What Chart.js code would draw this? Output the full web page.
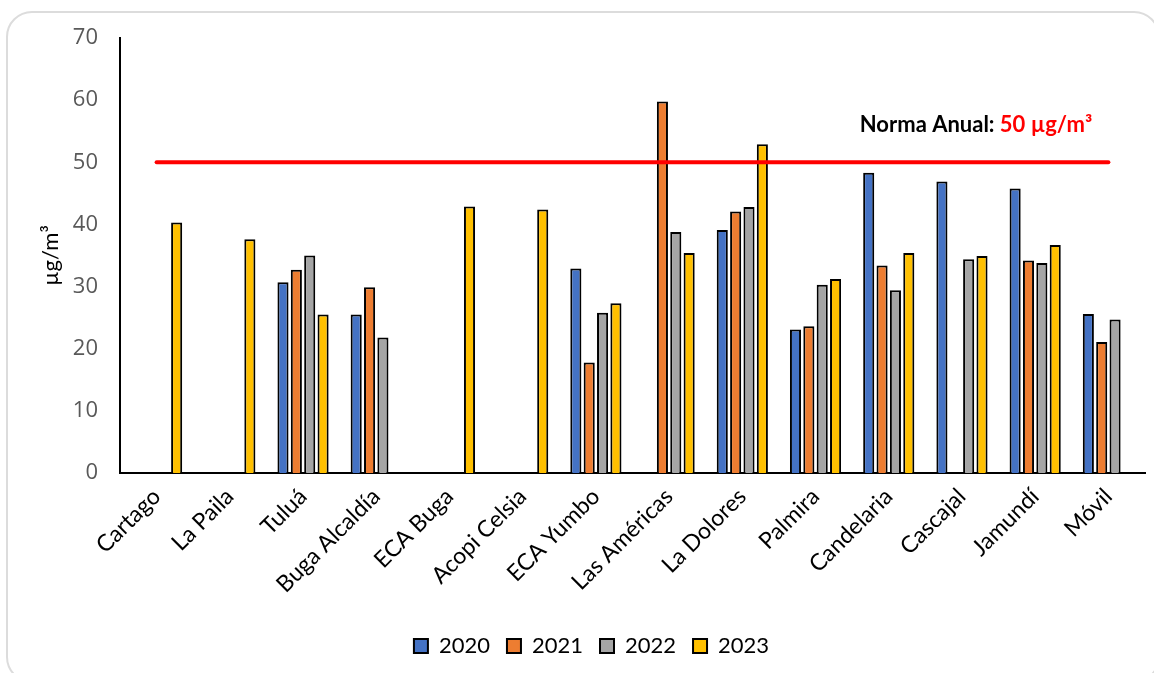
<!DOCTYPE html>
<html>
<head>
<meta charset="utf-8">
<script src="https://cdn.jsdelivr.net/npm/chart.js@4.4.0/dist/chart.umd.min.js"></script>
<style>
  body { margin: 0; background: #fff; overflow: hidden; }
  #frame { position: absolute; left: 6px; top: 11px; width: 1150px; height: 668px;
           border: 2px solid #dcdcdc; border-radius: 26px; }
  #wrap { position: absolute; left: 0; top: 0; width: 1154px; height: 673px; }
</style>
</head>
<body>
<div id="frame"></div>
<div id="wrap"><canvas id="myChart"></canvas></div>
<script>
// estaciones
var stations = ["Cartago", "La Paila", "Tuluá", "Buga Alcaldía", "ECA Buga", "Acopi Celsia",
  "ECA Yumbo", "Las Américas", "La Dolores", "Palmira", "Candelaria", "Cascajal", "Jamundí", "Móvil"];

// promedios anuales (µg/m³)
var y2020 = [null, null, 30.7, 25.5, null, null, 32.9, null, 39.1, 23.1, 48.3, 46.9, 45.8, 25.6];
var y2021 = [null, null, 32.7, 29.9, null, null, 17.8, 59.8, 42.1, 23.6, 33.4, null, 34.2, 21.1];
var y2022 = [null, null, 35.0, 21.8, null, null, 25.8, 38.8, 42.8, 30.3, 29.4, 34.4, 33.8, 24.7];
var y2023 = [40.3, 37.6, 25.5, null, 42.9, 42.4, 27.3, 35.4, 52.9, 31.2, 35.4, 34.9, 36.7, null];

var norma = 50;
var normaLine = stations.map(function() { return norma; });
var yTicks = [0, 10, 20, 30, 40, 50, 60, 70];

function barSet(label, data, color) {
  return {
    type: 'bar',
    label: label,
    data: data,
    backgroundColor: color,
    borderColor: '#000000',
    borderWidth: 2,
    borderSkipped: 'bottom',
    categoryPercentage: 0.73,
    barPercentage: 0.83,
    order: 1
  };
}

// texto de la norma sobre la linea roja
var normaLabel = {
  id: 'normaLabel',
  afterDraw: function(chart) {
    var c = chart.ctx;
    var xs = chart.scales.x, ys = chart.scales.y;
    var x = xs.getPixelForValue(10) - 29;
    var y = ys.getPixelForValue(norma) - 37;
    c.save();
    c.font = 'bold 22px Lato';
    c.textBaseline = 'middle';
    c.fillStyle = '#000000';
    var t1 = 'Norma Anual: ';
    c.fillText(t1, x, y);
    c.fillStyle = '#ff0000';
    c.fillText('50 µg/m³', x + c.measureText(t1).width, y);
    c.restore();
  }
};

var ctx = document.getElementById('myChart').getContext('2d');
var chart = new Chart(ctx, {
  data: {
    labels: stations,
    datasets: [
      {
        type: 'line',
        label: 'Norma',
        data: normaLine,
        borderColor: '#ff0000',
        borderWidth: 4,
        borderCapStyle: 'round',
        pointRadius: 0,
        fill: false,
        order: 0
      },
      barSet('2020', y2020, '#4472C4'),
      barSet('2021', y2021, '#ED7D31'),
      barSet('2022', y2022, '#A5A5A5'),
      barSet('2023', y2023, '#FFC000')
    ]
  },
  options: {
    responsive: true,
    maintainAspectRatio: false,
    animation: false,
    layout: { padding: { top: 38, left: 38, right: 9, bottom: 6 } },
    plugins: {
      tooltip: { enabled: false },
      legend: {
        position: 'bottom',
        labels: {
          color: '#000000',
          font: { family: 'Lato', size: 22 },
          boxWidth: 14,
          boxHeight: 14,
          padding: 17,
          filter: function(item) { return item.text !== 'Norma'; }
        }
      }
    },
    scales: {
      x: {
        grid: { display: false, drawTicks: false },
        border: { display: true, color: '#000000', width: 2 },
        ticks: {
          color: '#000000',
          font: { family: 'Lato', size: 23 },
          minRotation: 45,
          maxRotation: 45,
          autoSkip: false,
          padding: 10
        },
        afterFit: function(scale) { scale.height = 145; }
      },
      y: {
        min: 0,
        max: 70,
        afterBuildTicks: function(scale) {
          scale.ticks = yTicks.map(function(v) { return { value: v }; });
        },
        grid: { display: false, drawTicks: false },
        border: { display: true, color: '#000000', width: 2 },
        ticks: {
          color: '#595959',
          font: { family: 'Open Sans', size: 22 },
          padding: 22
        },
        title: {
          display: true,
          text: 'µg/m³',
          color: '#000000',
          font: { family: 'Lato', size: 22 },
          padding: { top: 0, bottom: 0 }
        },
        afterFit: function(scale) { scale.width = 82; }
      }
    }
  },
  plugins: [normaLabel]
});
</script>
</body>
</html>
